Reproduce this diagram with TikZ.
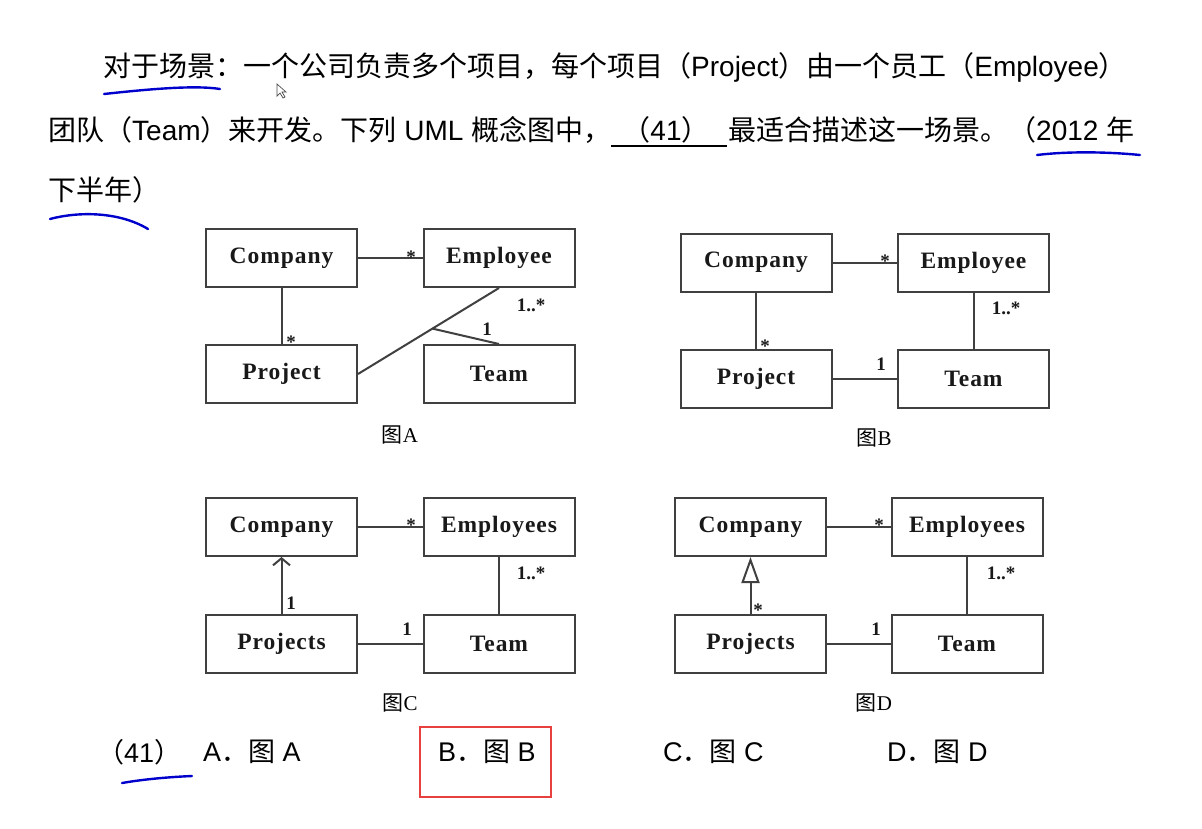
\documentclass[tikz,border=0pt]{standalone}
\usepackage{fontspec}
\setmainfont{Liberation Sans}
\newfontfamily\cjk{Noto Sans CJK SC}
\newfontfamily\boxfont[LetterSpace=4]{Liberation Serif}
\newfontfamily\serif{Liberation Serif}
\usetikzlibrary{arrows.meta,calc}
\tikzset{
 umlbox/.style={draw=black!75, line width=2pt, minimum width=151pt, minimum height=58pt, inner sep=0pt, font=\fontsize{23.5}{23.5}\boxfont\bfseries, text=black!90},
 assoc/.style={draw=black!75, line width=2pt},
 mult/.style={font=\fontsize{19}{19}\serif\bfseries, inner sep=0pt, text=black!90},
 figcap/.style={font=\fontsize{21}{21}\serif, inner sep=0pt},
 maintext/.style={font=\fontsize{28}{28}\selectfont, inner sep=0pt, anchor=west},
 anstext/.style={font=\fontsize{27}{27}\selectfont, inner sep=0pt, anchor=west},
 pen/.style={draw=blue!80!black, line width=2.4pt, line cap=round},
}
\begin{document}
\begin{tikzpicture}[x=1pt,y=-1pt]
\useasboundingbox[fill=white] (0,0) rectangle (1202,828);
% ---------- question text ----------
\node[maintext] (l1) at (103,67) {{\cjk 对于场景：一个公司负责多个项目，每个项目（}Project{\cjk ）由一个员工（}Employee{\cjk ）}};
\node[maintext] (l2a) at (48,130) {{\cjk 团队（}Team{\cjk ）来开发。下列} UML {\cjk 概念图中，}};
\coordinate (ulL) at (611,146);
\coordinate (ulR) at (727,146);
\draw[line width=1.5pt] (ulL) -- (ulR);
\node[font=\fontsize{28}{28}\selectfont, inner sep=0pt] (blank) at (666,130) {{\cjk （}41{\cjk ）}};
\node[maintext] (l2b) at (728,130) {{\cjk 最适合描述这一场景。（}2012 {\cjk 年}};
\node[maintext] (l3) at (48,190) {{\cjk 下半年）}};
% cursor
\draw[black!70, line width=0.7pt, fill=white] (277,84) -- (277,96) -- (280,93) -- (283,98) -- (285,97) -- (282,92) -- (286,92) -- cycle;
% ---------- Figure A ----------
\node[umlbox] (cA) at (281.5,258) {Company};
\node[umlbox] (eA) at (499,258) {Employee};
\node[umlbox] (pA) at (281.5,374) {Project};
\node[umlbox] (tA) at (499,374) {Team};
\draw[assoc] (cA) -- (eA);
\draw[assoc] (cA) -- (pA);
\draw[assoc] (pA.east) -- (eA.south);
\coordinate (jA) at ($(pA.east)!0.528!(eA.south)$);
\draw[assoc] (jA) -- (tA.north);
\node[mult] (mA1) at (411,257) {*};
\node[mult] (mA2) at (291,342) {*};
\node[mult] (mA3) at (487,329) {1};
\node[mult] (mA4) at (531,305) {1..*};
\node[figcap] (capA) at (400,435) {{\cjk 图}A};
% ---------- Figure B ----------
\node[umlbox] (cB) at (756,262.5) {Company};
\node[umlbox] (eB) at (973.5,262.5) {Employee};
\node[umlbox] (pB) at (756,379) {Project};
\node[umlbox] (tB) at (973.5,379) {Team};
\draw[assoc] (cB) -- (eB);
\draw[assoc] (cB) -- (pB);
\draw[assoc] (eB) -- (tB);
\draw[assoc] (pB) -- (tB);
\node[mult] (mB1) at (885,261) {*};
\node[mult] (mB2) at (765,346) {*};
\node[mult] (mB3) at (1006,308) {1..*};
\node[mult] (mB4) at (881,364) {1};
\node[figcap] (capB) at (874,438) {{\cjk 图}B};
% ---------- Figure C ----------
\node[umlbox] (cC) at (281.5,527) {Company};
\node[umlbox] (eC) at (499,527) {Employees};
\node[umlbox] (pC) at (281.5,643.5) {Projects};
\node[umlbox] (tC) at (499,643.5) {Team};
\draw[assoc] (cC) -- (eC);
\draw[assoc, -{Straight Barb[length=7pt,width=17pt]}] (pC) -- (cC);
\draw[assoc] (eC) -- (tC);
\draw[assoc] (pC) -- (tC);
\node[mult] (mC1) at (411,525) {*};
\node[mult] (mC2) at (291,603) {1};
\node[mult] (mC3) at (531,573) {1..*};
\node[mult] (mC4) at (407,629) {1};
\node[figcap] (capC) at (400,703) {{\cjk 图}C};
% ---------- Figure D ----------
\node[umlbox] (cD) at (750.5,527) {Company};
\node[umlbox] (eD) at (967,527) {Employees};
\node[umlbox] (pD) at (750.5,643.5) {Projects};
\node[umlbox] (tD) at (967,643.5) {Team};
\draw[assoc] (cD) -- (eD);
\draw[assoc, -{Triangle[open,length=26pt,width=18pt]}] (pD) -- (cD);
\draw[assoc] (eD) -- (tD);
\draw[assoc] (pD) -- (tD);
\node[mult] (mD1) at (879,525) {*};
\node[mult] (mD2) at (758,610) {*};
\node[mult] (mD3) at (1001,573) {1..*};
\node[mult] (mD4) at (876,629) {1};
\node[figcap] (capD) at (874,703) {{\cjk 图}D};
% ---------- answers ----------
\node[anstext] (q41) at (97,752) {{\cjk （}41{\cjk ）}};
\node[anstext] (ansA) at (203,752) {A{\cjk ．图} A};
\node[anstext] (ansB) at (438,752) {B{\cjk ．图} B};
\node[anstext] (ansC) at (663,752) {C{\cjk ．图} C};
\node[anstext] (ansD) at (887,752) {D{\cjk ．图} D};
\draw[draw={rgb,255:red,232;green,64;blue,63}, line width=2pt] (420,727) rectangle (551,797);
% ---------- pen marks ----------
\draw[pen] (104,94) .. controls (150,89) and (195,85) .. (220,89);
\draw[pen] (1037,155) .. controls (1070,151) and (1110,152) .. (1140,155);
\draw[pen] (50,219) .. controls (80,211) and (120,212) .. (148,229);
\draw[pen] (122,783) .. controls (145,779) and (170,777) .. (192,776);
\end{tikzpicture}
\end{document}
